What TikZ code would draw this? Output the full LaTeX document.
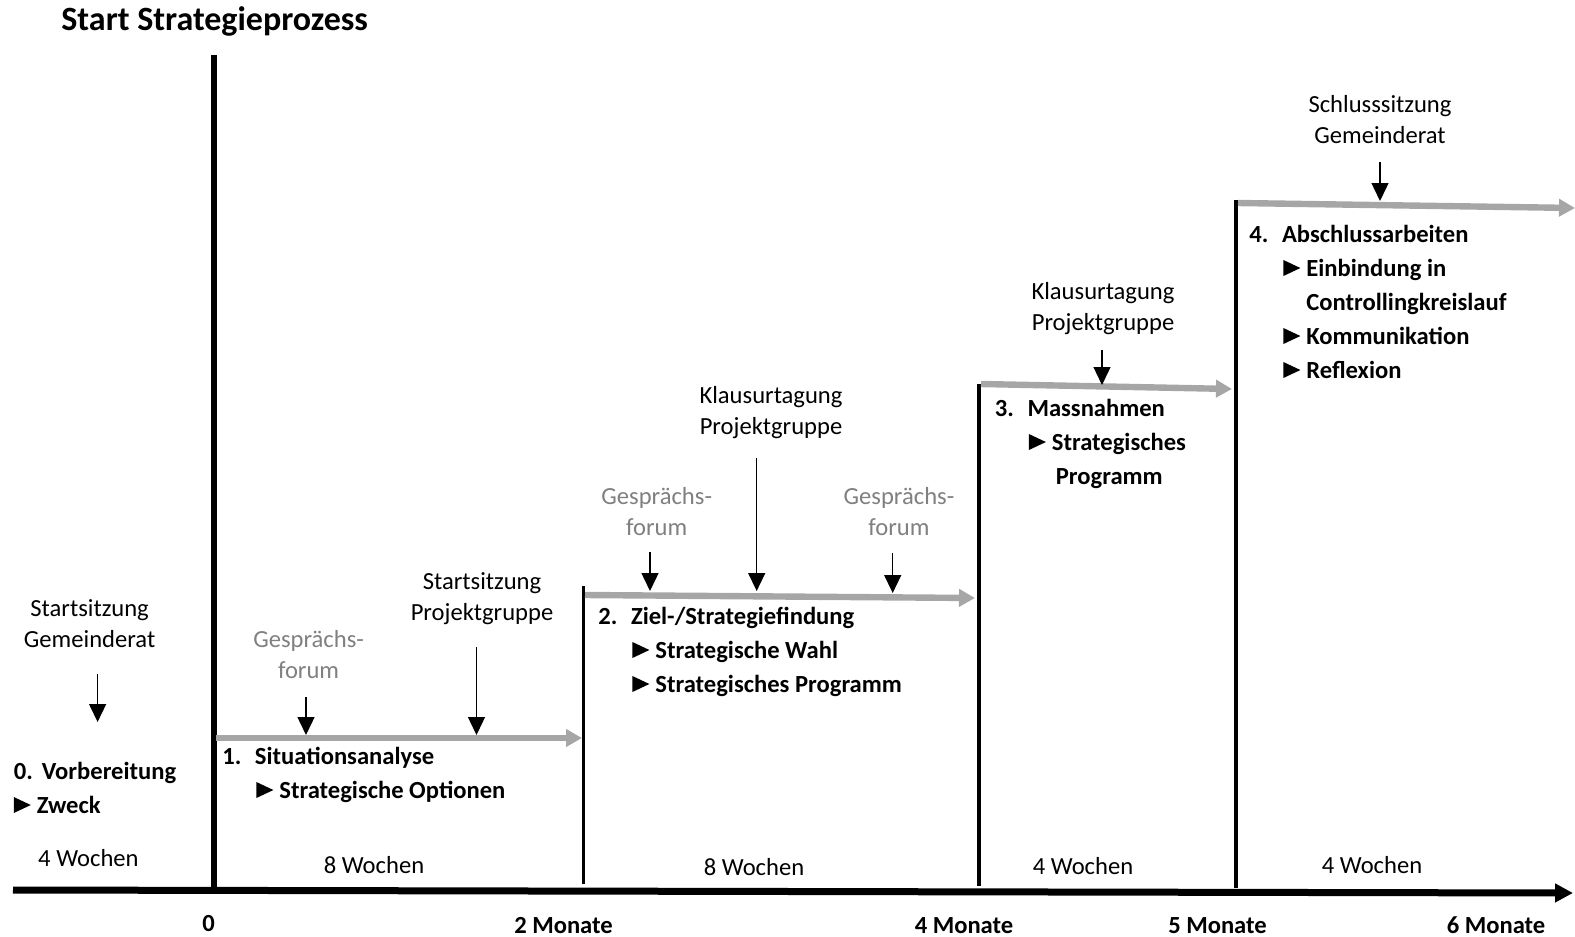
\documentclass[tikz,border=0pt]{standalone}
\usepackage{fontspec}
\setmainfont{Carlito}
\usetikzlibrary{arrows.meta}
\definecolor{flowgray}{RGB}{166,166,166}
\definecolor{forumgray}{RGB}{128,128,128}
\newcommand\tri{\makebox[11.5pt][l]{\tikz[baseline=0pt]\fill (0pt,0pt) -- (0pt,8pt) -- (8.5pt,4pt) -- cycle;}}
\newcommand\num[1]{\makebox[16.3pt][l]{#1}}

\begin{document}
\begin{tikzpicture}[x=0.5pt,y=-0.5pt,
	lbl/.style={font=\fontsize{12.3}{15.25}\selectfont, align=center, anchor=base, inner sep=0pt},
	forum/.style={lbl, text=forumgray},
	phase/.style={font=\bfseries\fontsize{12.3}{17}\selectfont, align=left, anchor=base west, inner sep=0pt},
	month/.style={font=\bfseries\fontsize{12.3}{15}\selectfont, anchor=base, inner sep=0pt},
	event/.style={-{Triangle[length=9pt,width=8.5pt]}, line width=0.7pt},
	flow/.style={flowgray, line width=3.2pt, -{Triangle[length=8pt,width=8.5pt]}},
	startline/.style={line width=2.9pt},
	phaseline/.style={line width=2pt}]
	\useasboundingbox (0,0) rectangle (1575,937);

	\node [anchor=base west, inner sep=0pt, font=\bfseries\fontsize{17}{20}\selectfont] (title) at (61,31) {Start Strategieprozess};

	% time axis
	\coordinate (ax0) at (13,890);
	\coordinate (ax1) at (1573,893);
	\draw [line width=3.5pt, -{Triangle[length=9pt,width=9pt]}] (ax0) -- (ax1);

	% phase borders
	\coordinate (v0t) at (214,55);
	\coordinate (v0b) at (214,890);
	\coordinate (v1t) at (583.6,586);
	\coordinate (v1b) at (583.6,884);
	\coordinate (v2t) at (979,384);
	\coordinate (v2b) at (979,886);
	\coordinate (v3t) at (1236,200);
	\coordinate (v3b) at (1236,888);
	\draw [startline] (v0t) -- (v0b);
	\draw [phaseline, line width=1.7pt] (v1t) -- (v1b);
	\draw [phaseline] (v2t) -- (v2b);
	\draw [phaseline] (v3t) -- (v3b);

	% gray flow arrows
	\coordinate (f1s) at (216,738);
	\coordinate (f1e) at (582,738);
	\coordinate (f2s) at (585,595);
	\coordinate (f2e) at (975,598);
	\coordinate (f3s) at (981,384);
	\coordinate (f3e) at (1232,389);
	\coordinate (f4s) at (1238,203);
	\coordinate (f4e) at (1575,208);
	\foreach \i in {1,...,4}
		\draw [flow] (f\i s) -- (f\i e);

	% events (node base = last line)
	\node [lbl] (sgr) at (89.6,647) {Startsitzung\\Gemeinderat};
	\node [forum] (gf1) at (308.6,678) {Gesprächs-\\forum};
	\node [lbl] (spg) at (482,620) {Startsitzung\\Projektgruppe};
	\node [forum] (gf2) at (656.7,535) {Gesprächs-\\forum};
	\node [lbl] (kpg2) at (771,434) {Klausurtagung\\Projektgruppe};
	\node [forum] (gf3) at (899,535) {Gesprächs-\\forum};
	\node [lbl] (kpg3) at (1103,330) {Klausurtagung\\Projektgruppe};
	\node [lbl] (ssg) at (1380,143) {Schlusssitzung\\Gemeinderat};

	\coordinate (e0s) at (97.6,674);
	\coordinate (e0e) at (97.6,722);
	\coordinate (e1s) at (306,697);
	\coordinate (e1e) at (306,735);
	\coordinate (e2s) at (476.5,647);
	\coordinate (e2e) at (476.5,735);
	\coordinate (e3s) at (650,552);
	\coordinate (e3e) at (650,591);
	\coordinate (e4s) at (756.7,458);
	\coordinate (e4e) at (756.7,591);
	\coordinate (e5s) at (892.7,553);
	\coordinate (e5e) at (892.7,593);
	\coordinate (e6s) at (1102,349.5);
	\coordinate (e6e) at (1102,385);
	\coordinate (e7s) at (1380,162);
	\coordinate (e7e) at (1380,201);
	\foreach \i in {0,...,7}
		\draw [event] (e\i s) -- (e\i e);

	% phases (node base = last line)
	\node [phase] (p0) at (13.4,813) {\makebox[14pt][l]{0.}Vorbereitung\\\tri Zweck};
	\node [phase] (p1) at (222,798) {\num{1.}Situationsanalyse\\\hspace*{17pt}\tri Strategische Optionen};
	\node [phase] (p2) at (598,692) {\num{2.}Ziel-/Strategiefindung\\\hspace*{17pt}\tri Strategische Wahl\\\hspace*{17pt}\tri Strategisches Programm};
	\node [phase] (p3) at (994.5,484) {\num{3.}Massnahmen\\\hspace*{17pt}\tri Strategisches\\\hspace*{30.5pt}Programm};
	\node [phase] (p4) at (1249,378) {\num{4.}Abschlussarbeiten\\\hspace*{17pt}\tri Einbindung in\\\hspace*{28.5pt}Controllingkreislauf\\\hspace*{17pt}\tri Kommunikation\\\hspace*{17pt}\tri Reflexion};

	% durations
	\node [lbl] (w0) at (88.4,866) {4 Wochen};
	\node [lbl] (w1) at (374,873) {8 Wochen};
	\node [lbl] (w2) at (754,875) {8 Wochen};
	\node [lbl] (w3) at (1083,874) {4 Wochen};
	\node [lbl] (w4) at (1372,873) {4 Wochen};

	% months
	\node [month] (t0) at (208.6,931) {0};
	\node [month] (t2) at (563.5,933) {2 Monate};
	\node [month] (t4) at (964,933) {4 Monate};
	\node [month] (t5) at (1217.5,933) {5 Monate};
	\node [month] (t6) at (1496,933) {6 Monate};
\end{tikzpicture}
\end{document}
